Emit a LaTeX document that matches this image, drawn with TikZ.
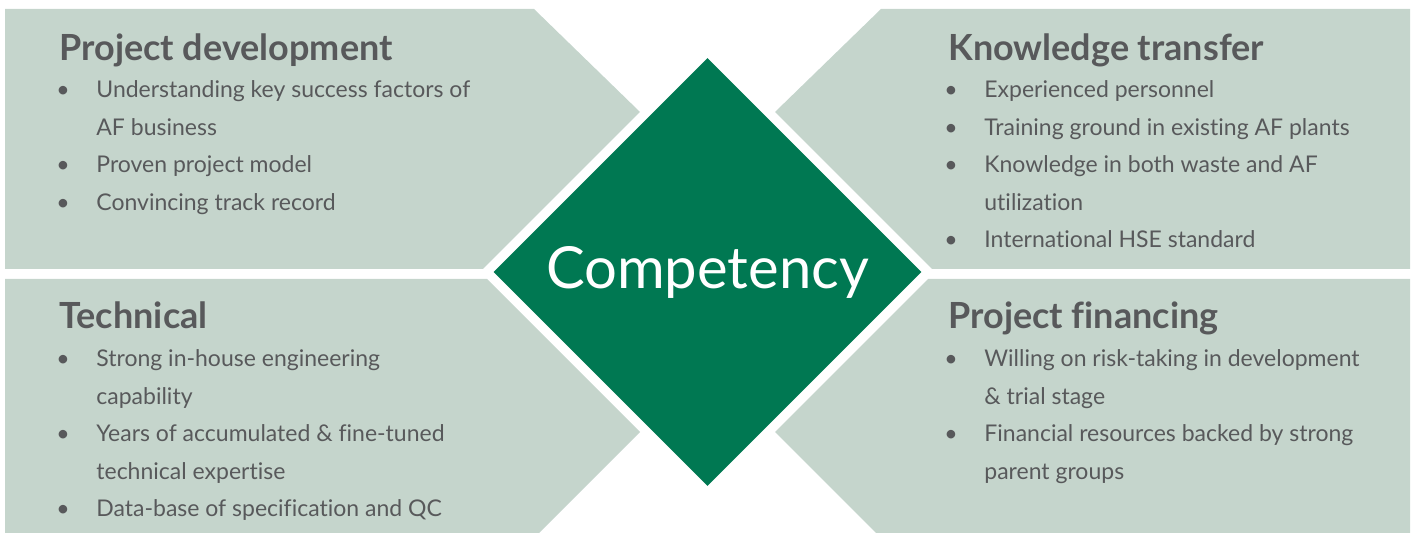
\documentclass[tikz,border=0pt]{standalone}
\usepackage{fontspec}
\setmainfont{Lato}[Ligatures=NoCommon]
\usetikzlibrary{shapes.geometric}
\definecolor{panelgreen}{RGB}{197,213,204}
\definecolor{coregreen}{RGB}{0,120,82}
\definecolor{textgrey}{RGB}{88,89,91}
\newlength{\bulletwidth}\setlength{\bulletwidth}{20pt}
\newcommand{\bul}{\makebox[\bulletwidth][l]{\textbullet}}
\newcommand{\cont}{\hspace*{\bulletwidth}}
\tikzset{%
  % Specifications for style of shapes and texts:
      panel/.style = {fill=panelgreen, draw=none},
       core/.style = {diamond, fill=coregreen, text=white, inner sep=0pt,
                      minimum width=214pt, minimum height=214pt,
                      font=\fontsize{29}{34}\selectfont},
    heading/.style = {anchor=base west, inner sep=0pt, text=textgrey,
                      font=\bfseries\fontsize{18}{22}\selectfont},
  % lists are placed by the baseline of their last line
    bullets/.style = {anchor=base west, inner sep=0pt, text=textgrey,
                      align=left, font=\fontsize{11.5}{18.75}\selectfont},
}

\begin{document}
\begin{tikzpicture}[x=0.5pt, y=-0.5pt]
  \useasboundingbox (0,0) rectangle (1415,533);
  % Specification of the four panels round the centre
  \fill[panel] (5,9) -- (534,9) -- (640,112) -- (483,269) -- (5,269) -- cycle;
  \fill[panel] (5,279) -- (487,279) -- (640,432) -- (539,533) -- (5,533) -- cycle;
  \fill[panel] (1410,9) -- (881,9) -- (775,112) -- (932,269) -- (1410,269) -- cycle;
  \fill[panel] (1410,279) -- (928,279) -- (775,432) -- (876,533) -- (1410,533) -- cycle;
  % Centre diamond
  \node (core) [core] at (707.5,272) {Competency};
  % Headings and bullet lists (position, etc.)
  \node (pdTitle) [heading] at (59,61) {Project development};
  \node (pdList) [bullets] at (56,210.5) {\bul Understanding key success factors of\\
    \cont AF business\\ \bul Proven project model\\ \bul Convincing track record};
  \node (ktTitle) [heading] at (948,61) {Knowledge transfer};
  \node (ktList) [bullets] at (944,248) {\bul Experienced personnel\\
    \bul Training ground in existing AF plants\\ \bul Knowledge in both waste and AF\\
    \cont utilization\\ \bul International HSE standard};
  \node (tcTitle) [heading] at (59,329) {Technical};
  \node (tcList) [bullets] at (56,517) {\bul Strong in-house engineering\\
    \cont capability\\ \bul Years of accumulated \& fine-tuned\\
    \cont technical expertise\\ \bul Data-base of specification and QC};
  \node (pfTitle) [heading] at (948,329) {Project financing};
  \node (pfList) [bullets] at (944,479.5) {\bul Willing on risk-taking in development\\
    \cont \& trial stage\\ \bul Financial resources backed by strong\\
    \cont parent groups};
\end{tikzpicture}
\end{document}
